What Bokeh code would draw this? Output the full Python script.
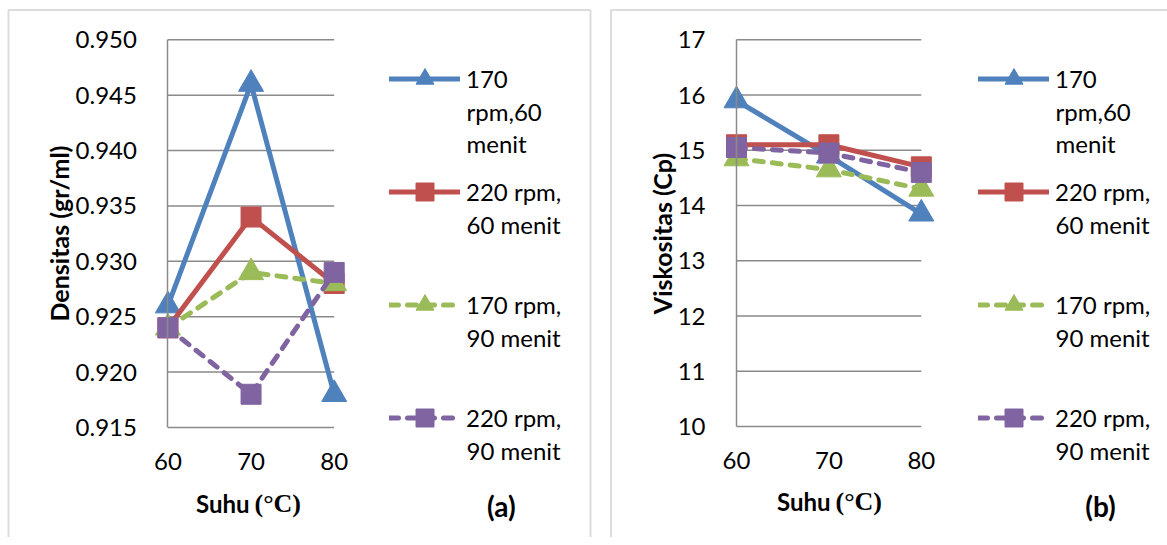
import math
from bokeh.plotting import figure
from bokeh.models import (Range1d, FixedTicker, PrintfTickFormatter, Legend,
                          LegendItem, Label, BoxAnnotation)
from bokeh.layouts import row
from bokeh.embed import file_html
from bokeh.resources import INLINE

# ---------------- data ----------------
suhu = [60, 70, 80]
x_ticks = [60, 70, 80]

legend_first = ["170", "220 rpm,", "170 rpm,", "220 rpm,"]
legend_rest = [["rpm,60", "menit"], ["60 menit"], ["90 menit"], ["90 menit"]]

densitas_170_60 = [0.926, 0.946, 0.918]
densitas_220_60 = [0.924, 0.934, 0.928]
densitas_170_90 = [0.924, 0.929, 0.928]
densitas_220_90 = [0.924, 0.918, 0.929]
densitas_ticks = [0.915, 0.920, 0.925, 0.930, 0.935, 0.940, 0.945, 0.950]

viskositas_170_60 = [15.9, 14.9, 13.85]
viskositas_220_60 = [15.1, 15.1, 14.7]
viskositas_170_90 = [14.85, 14.65, 14.3]
viskositas_220_90 = [15.05, 14.95, 14.6]
viskositas_ticks = [10, 11, 12, 13, 14, 15, 16, 17]

# ---------------- styles ----------------
COLORS = ["#4F81BD", "#C0504D", "#9BBB59", "#8064A2"]
DASHES = ["solid", "solid", "9 9", "9 9"]
MARKERS = ["triangle", "square", "triangle", "square"]
SIZES = [25, 20, 25, 20]
GRID = "#8a8a8a"
FONT = "Lato"

H = 537
PLOT_TOP = 39.3
LEG_TOP = 56
GLYPH_W, GLYPH_H, SPACING, STANDOFF = 71, 45, 68, 6
LINE_STEP = 32


def make_panel(series, yticks, fmt, W, plot_left, plot_right, plot_bottom, leg_left,
               ytitle, ytitle_x, unit_x, xt_y, letter, letter_x, letter_y,
               box_left, box_right):
    xmin, xmax = x_ticks[0], x_ticks[-1]
    ymin, ymax = yticks[0], yticks[-1]
    xpp = (xmax - xmin) / (plot_right - plot_left)
    ypp = (ymax - ymin) / (plot_bottom - PLOT_TOP)
    x0 = xmin - plot_left * xpp
    y1 = ymax + PLOT_TOP * ypp
    p = figure(frame_width=W, frame_height=H,
               min_border_left=0, min_border_right=0,
               min_border_top=0, min_border_bottom=0,
               x_range=Range1d(x0, x0 + W * xpp),
               y_range=Range1d(y1 - H * ypp, y1),
               output_backend="svg", toolbar_location=None,
               outline_line_color=None, background_fill_color="white",
               border_fill_color="white")
    p.grid.visible = False

    for ax in (p.xaxis[0], p.yaxis[0]):
        ax.major_tick_line_color = None
        ax.minor_tick_line_color = None
        ax.major_label_text_font = FONT
        ax.major_label_text_font_size = "24px"
        ax.major_label_text_color = "#000000"
    xa, ya = p.xaxis[0], p.yaxis[0]
    xa.fixed_location = ymin
    xa.bounds = (xmin, xmax)
    xa.axis_line_color = None
    xa.ticker = FixedTicker(ticks=x_ticks)
    xa.major_label_standoff = 19
    ya.fixed_location = xmin
    ya.bounds = (ymin, ymax)
    ya.axis_line_color = GRID
    ya.axis_line_width = 1.5
    ya.ticker = FixedTicker(ticks=yticks)
    ya.major_label_standoff = 25
    if fmt:
        ya.formatter = PrintfTickFormatter(format=fmt)

    # horizontal gridlines over the plot area
    n = len(yticks)
    p.segment(x0=[xmin] * n, x1=[xmax] * n, y0=yticks, y1=yticks,
              line_color=GRID, line_width=1.5)

    items = []
    for i, vals in enumerate(series):
        r1 = p.line(suhu, vals, line_color=COLORS[i], line_width=5,
                    line_dash=DASHES[i], line_cap="round", line_join="round")
        r2 = p.scatter(suhu, vals, marker=MARKERS[i], size=SIZES[i],
                       fill_color=COLORS[i], line_color=COLORS[i], line_width=1)
        items.append(LegendItem(label=legend_first[i], renderers=[r1, r2]))

    leg_h = 4 * GLYPH_H + 3 * SPACING
    legend = Legend(items=items,
                    location=(leg_left, H - (LEG_TOP + leg_h)),
                    glyph_width=GLYPH_W, glyph_height=GLYPH_H, spacing=SPACING,
                    label_standoff=STANDOFF, padding=0, margin=0,
                    border_line_color=None, background_fill_alpha=0,
                    label_text_font=FONT, label_text_font_size="24px",
                    label_text_color="#000000")
    p.add_layout(legend)

    text_x = leg_left + GLYPH_W + STANDOFF
    for i, rest in enumerate(legend_rest):
        c = LEG_TOP + GLYPH_H / 2 + i * (GLYPH_H + SPACING)
        for k, t in enumerate(rest):
            p.add_layout(Label(x=text_x, y=c + (k + 1) * LINE_STEP,
                               x_units="canvas", y_units="canvas", text=t,
                               text_font=FONT, text_font_size="24px",
                               text_color="#000000", text_baseline="middle",
                               text_align="left"))

    p.add_layout(Label(x=ytitle_x, y=233, x_units="canvas", y_units="canvas",
                       text=ytitle, angle=math.pi / 2,
                       text_font=FONT, text_font_size="25px", text_font_style="bold",
                       text_color="#000000", text_baseline="middle",
                       text_align="center"))
    p.add_layout(Label(x=unit_x - 5, y=xt_y, x_units="canvas", y_units="canvas",
                       text="Suhu", text_font=FONT, text_font_size="24px",
                       text_font_style="bold", text_color="#000000",
                       text_baseline="middle", text_align="right"))
    p.add_layout(Label(x=unit_x, y=xt_y, x_units="canvas", y_units="canvas",
                       text="(°C)", text_font="Liberation Serif", text_font_size="26px",
                       text_font_style="bold", text_color="#000000",
                       text_baseline="middle", text_align="left"))
    p.add_layout(Label(x=letter_x, y=letter_y, x_units="canvas", y_units="canvas",
                       text=letter, text_font=FONT, text_font_size="28px",
                       text_font_style="bold", text_color="#000000",
                       text_baseline="middle", text_align="center"))

    p.add_layout(BoxAnnotation(left=box_left, right=box_right, top=9.4, bottom=H + 20,
                               left_units="canvas", right_units="canvas",
                               top_units="canvas", bottom_units="canvas",
                               fill_alpha=0, line_color="#8a8a8a", line_width=2))
    return p


p1 = make_panel([densitas_170_60, densitas_220_60, densitas_170_90, densitas_220_90],
                densitas_ticks, "%.3f", W=609, plot_left=167.4, plot_right=333.7,
                plot_bottom=427, leg_left=389, ytitle="Densitas (gr/ml)", ytitle_x=58,
                unit_x=254, xt_y=503, letter="(a)",
                letter_x=500.8, letter_y=505, box_left=8, box_right=590)
p2 = make_panel([viskositas_170_60, viskositas_220_60, viskositas_170_90, viskositas_220_90],
                viskositas_ticks, None, W=558, plot_left=127, plot_right=311.8,
                plot_bottom=426, leg_left=369, ytitle="Viskositas (Cp)", ytitle_x=52.5,
                unit_x=226, xt_y=500.5, letter="(b)",
                letter_x=491, letter_y=505, box_left=1.5, box_right=600)

layout = row(p1, p2)
open("out.html", "w").write(file_html(layout, INLINE))
